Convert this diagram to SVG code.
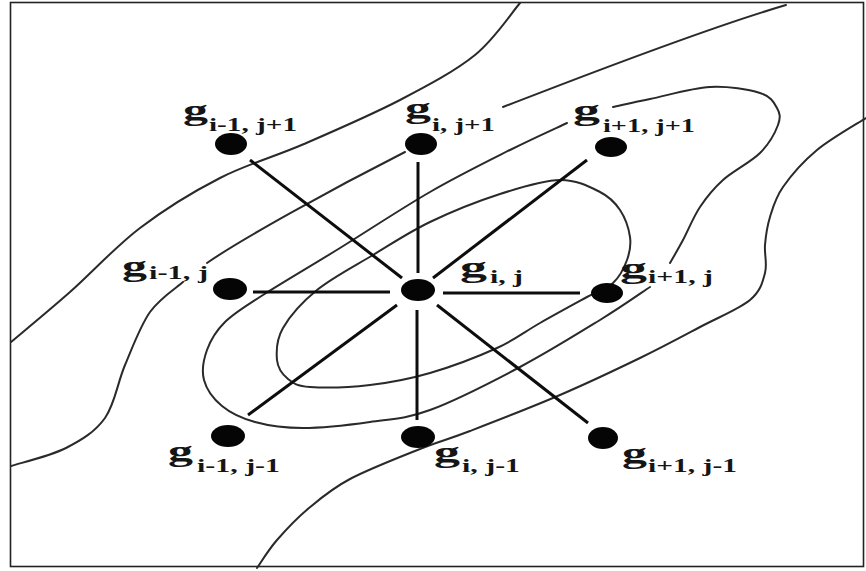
<svg xmlns="http://www.w3.org/2000/svg" width="866" height="571" viewBox="0 0 866 571">
<style>
.frame{fill:#fff;stroke:#222;stroke-width:1.6}
.contour{fill:none;stroke:#2a2a2a;stroke-width:2;stroke-linecap:round;stroke-linejoin:round}
.conn{stroke:#0d0d0d;stroke-width:3;stroke-linecap:butt}
.dot{fill:#050505}
.g{font-family:"Liberation Serif","Times New Roman",serif;font-weight:bold;font-size:30px;fill:#151515}
.s{font-family:"Liberation Serif","Times New Roman",serif;font-weight:bold;font-size:19px;fill:#151515}
</style>
<rect class="frame" x="10.5" y="2.5" width="853" height="564"/>
<g id="contours">
<path class="contour" d="M11,342 C20.8,333.7 48.5,311 70,292 C91.5,273 115,247 140,228 C165,209 192.7,192 220,178 C247.3,164 274,157 304,144 C334,131 371.5,114.8 400,100 C428.5,85.2 455.2,71 475,55 C494.8,39 511.7,12.5 520,3"/>
<path class="contour" d="M11,466 C20.2,463 50.3,456 66,448 C81.7,440 95.2,431.8 105,418 C114.8,404.2 117.5,382.7 125,365 C132.5,347.3 140.3,325.8 150,312 C159.7,298.2 177.5,287 183,282"/>
<path class="contour" d="M207,263 C240,240 330,190 405,152"/>
<path class="contour" d="M503,107 C560,85 700,30 786,5"/>
<path class="contour" d="M613,107 C619.2,105.7 633.8,102.3 650,99 C666.2,95.7 691.7,88 710,87 C728.3,86 748.8,89.5 760,93 C771.2,96.5 774,102.7 777,108 C780,113.3 780.8,117.5 778,125 C775.2,132.5 769.2,143.8 760,153 C750.8,162.2 733,171 723,180 C713,189 706.7,197 700,207 C693.3,217 688,230.7 683,240 C678,249.3 672.2,259.2 670,263"/>
<path class="contour" d="M650,287 C641.7,292.5 621.7,306.7 600,320 C578.3,333.3 548.3,352 520,367 C491.7,382 455,400.8 430,410 C405,419.2 391.2,419 370,422 C348.8,425 322.2,428 303,428 C283.8,428 268.5,425.7 255,422 C241.5,418.3 230.5,413 222,406 C213.5,399 206.5,389.3 204,380 C201.5,370.7 203.5,359.7 207,350 C210.5,340.3 215.7,331.2 225,322 C234.3,312.8 243.8,307.3 263,295 C282.2,282.7 312.2,265.2 340,248 C367.8,230.8 401.7,208.3 430,192 C458.3,175.7 487.2,161.5 510,150 C532.8,138.5 557.5,127.5 567,123"/>
<path class="contour" d="M560,180 C576.7,179.7 590,187 600,192 C610,197 615,202.5 620,210 C625,217.5 628.8,228.7 630,237 C631.2,245.3 629.8,252.3 627,260 C624.2,267.7 619.7,276.8 613,283 C606.3,289.2 599.2,290.3 587,297 C574.8,303.7 555,314.5 540,323 C525,331.5 515.3,339.7 497,348 C478.7,356.3 451.2,366.8 430,373 C408.8,379.2 390,382.7 370,385 C350,387.3 323.7,388 310,387 C296.3,386 293.5,383.5 288,379 C282.5,374.5 277.8,368.5 277,360 C276.2,351.5 276.3,339.7 283,328 C289.7,316.3 302,302.2 317,290 C332,277.8 354.2,266.3 373,255 C391.8,243.7 408.8,232.2 430,222 C451.2,211.8 478.3,201 500,194 C521.7,187 543.3,180.3 560,180 Z"/>
<path class="contour" d="M866,118 C857.8,123.3 830.8,138.5 817,150 C803.2,161.5 790.8,175.8 783,187 C775.2,198.2 773,207.3 770,217 C767,226.7 765.8,235.7 765,245 C764.2,254.3 767.5,263.8 765,273 C762.5,282.2 760.8,291 750,300 C739.2,309 718.3,317.3 700,327 C681.7,336.7 663.3,346.7 640,358 C616.7,369.3 588.3,382.8 560,395 C531.7,407.2 493.3,422 470,431 C446.7,440 440,441 420,449 C400,457 368.5,469.2 350,479 C331.5,488.8 321.2,497.8 309,508 C296.8,518.2 285.7,530 277,540 C268.3,550 260.3,563.3 257,568"/>
</g>
<g id="connectors">
<line class="conn" x1="250" y1="160" x2="402" y2="278"/>
<line class="conn" x1="418" y1="162" x2="418" y2="273"/>
<line class="conn" x1="587" y1="160" x2="433" y2="278"/>
<line class="conn" x1="253" y1="292" x2="390" y2="292" stroke="#17383a"/>
<line class="conn" x1="443" y1="293" x2="580" y2="293"/>
<line class="conn" x1="397" y1="305" x2="248" y2="415"/>
<line class="conn" x1="417" y1="310" x2="417" y2="420"/>
<line class="conn" x1="437" y1="305" x2="588" y2="423"/>
</g>
<g id="n_im1_jp1">
<ellipse class="dot" cx="231" cy="144" rx="16" ry="11"/>
<text class="g" x="183" y="120" textLength="25" lengthAdjust="spacingAndGlyphs">g</text>
<text class="s" x="209" y="131" textLength="88" lengthAdjust="spacingAndGlyphs">i-1, j+1</text>
</g>
<g id="n_i_jp1">
<ellipse class="dot" cx="421" cy="144" rx="16" ry="11"/>
<text class="g" x="405" y="118" textLength="26" lengthAdjust="spacingAndGlyphs">g</text>
<text class="s" x="432" y="131" textLength="63" lengthAdjust="spacingAndGlyphs">i, j+1</text>
</g>
<g id="n_ip1_jp1">
<ellipse class="dot" cx="611" cy="147" rx="16" ry="10"/>
<text class="g" x="573" y="120" textLength="27" lengthAdjust="spacingAndGlyphs">g</text>
<text class="s" x="603" y="132" textLength="92" lengthAdjust="spacingAndGlyphs">i+1, j+1</text>
</g>
<g id="n_im1_j">
<ellipse class="dot" cx="230" cy="289" rx="17" ry="11"/>
<text class="g" x="122" y="276" textLength="25" lengthAdjust="spacingAndGlyphs">g</text>
<text class="s" x="149" y="279" textLength="59" lengthAdjust="spacingAndGlyphs">i-1, j</text>
</g>
<g id="n_i_j">
<ellipse class="dot" cx="418" cy="290" rx="17" ry="11"/>
<text class="g" x="460" y="277" textLength="27" lengthAdjust="spacingAndGlyphs">g</text>
<text class="s" x="490" y="283" textLength="33" lengthAdjust="spacingAndGlyphs">i, j</text>
</g>
<g id="n_ip1_j">
<ellipse class="dot" cx="607" cy="293" rx="16" ry="10"/>
<text class="g" x="620" y="278" textLength="27" lengthAdjust="spacingAndGlyphs">g</text>
<text class="s" x="648" y="283" textLength="65" lengthAdjust="spacingAndGlyphs">i+1, j</text>
</g>
<g id="n_im1_jm1">
<ellipse class="dot" cx="228" cy="436" rx="17" ry="11"/>
<text class="g" x="168" y="461" textLength="25" lengthAdjust="spacingAndGlyphs">g</text>
<text class="s" x="197" y="472" textLength="83" lengthAdjust="spacingAndGlyphs">i-1, j-1</text>
</g>
<g id="n_i_jm1">
<ellipse class="dot" cx="418" cy="437" rx="17" ry="11"/>
<text class="g" x="434" y="462" textLength="26" lengthAdjust="spacingAndGlyphs">g</text>
<text class="s" x="462" y="472" textLength="58" lengthAdjust="spacingAndGlyphs">i, j-1</text>
</g>
<g id="n_ip1_jm1">
<ellipse class="dot" cx="603" cy="438" rx="15" ry="11"/>
<text class="g" x="622" y="463" textLength="25" lengthAdjust="spacingAndGlyphs">g</text>
<text class="s" x="648" y="472" textLength="89" lengthAdjust="spacingAndGlyphs">i+1, j-1</text>
</g>
</svg>
